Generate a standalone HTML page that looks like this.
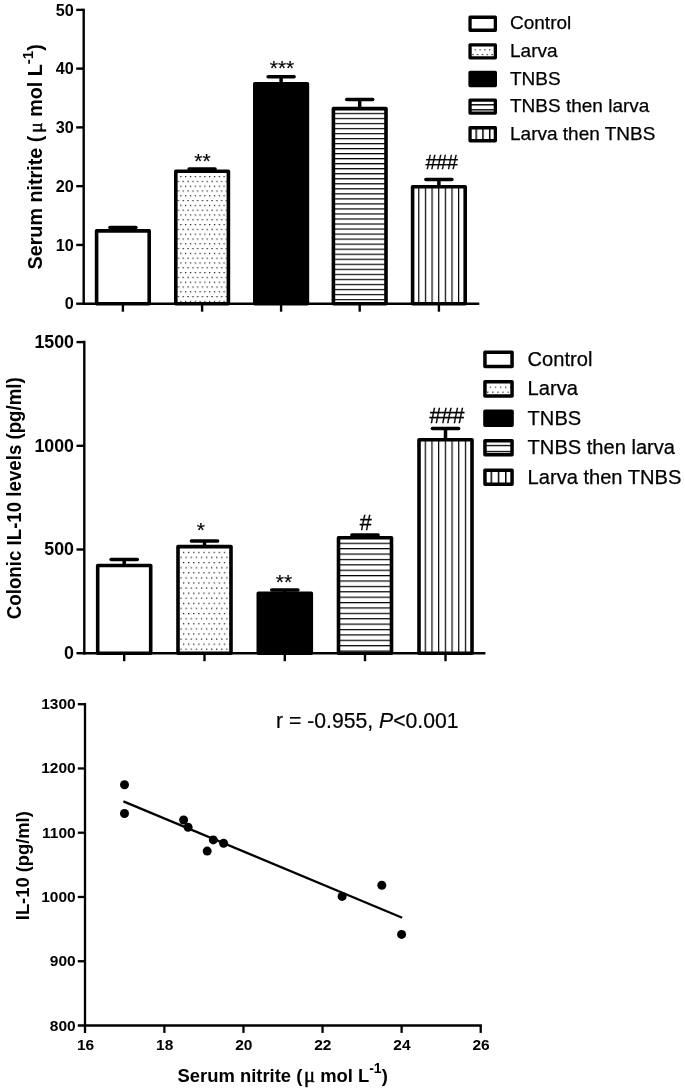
<!DOCTYPE html>
<html><head><meta charset="utf-8"><title>Figure</title>
<style>
html,body{margin:0;padding:0;background:#fff;}
body{width:685px;height:1091px;overflow:hidden;font-family:"Liberation Sans", sans-serif;}
svg{display:block;filter:blur(0.6px);font-family:"Liberation Sans", sans-serif;fill:#000;}
</style></head><body>
<svg width="685" height="1091" viewBox="0 0 685 1091">
<defs>
<pattern id="d1" width="4.8" height="9.6" patternUnits="userSpaceOnUse" x="180.30" y="176.00"><rect x="0" y="0" width="1.2" height="1.2" fill="#111"/><rect x="2.4" y="4.8" width="1.2" height="1.2" fill="#111"/></pattern>
<pattern id="h1" width="20" height="5.03" patternUnits="userSpaceOnUse" x="0" y="112.80"><rect x="0" y="0" width="20" height="1.2" fill="#000"/></pattern>
<pattern id="v1" width="6.64" height="20" patternUnits="userSpaceOnUse" x="418.20" y="0"><rect x="0" y="0" width="1.2" height="20" fill="#000"/></pattern>
<pattern id="d1L" width="4.8" height="9.6" patternUnits="userSpaceOnUse" x="474.70" y="49.25"><rect x="0" y="0" width="1.2" height="1.2" fill="#111"/><rect x="2.4" y="4.8" width="1.2" height="1.2" fill="#111"/></pattern>
<pattern id="h1L" width="20" height="5.03" patternUnits="userSpaceOnUse" x="0" y="104.15"><rect x="0" y="0" width="20" height="1.3" fill="#000"/></pattern>
<pattern id="v1L" width="6.75" height="20" patternUnits="userSpaceOnUse" x="475.45" y="0"><rect x="0" y="0" width="1.5" height="20" fill="#000"/></pattern>
<pattern id="d2" width="5.1" height="10.2" patternUnits="userSpaceOnUse" x="183.00" y="551.80"><rect x="0" y="0" width="1.2" height="1.2" fill="#111"/><rect x="2.55" y="5.1" width="1.2" height="1.2" fill="#111"/></pattern>
<pattern id="h2" width="20" height="5.39" patternUnits="userSpaceOnUse" x="0" y="542.70"><rect x="0" y="0" width="20" height="1.2" fill="#000"/></pattern>
<pattern id="v2" width="6.69" height="20" patternUnits="userSpaceOnUse" x="424.70" y="0"><rect x="0" y="0" width="1.2" height="20" fill="#000"/></pattern>
<pattern id="d2L" width="5.1" height="10.2" patternUnits="userSpaceOnUse" x="489.70" y="386.60"><rect x="0" y="0" width="1.2" height="1.2" fill="#111"/><rect x="2.55" y="5.1" width="1.2" height="1.2" fill="#111"/></pattern>
<pattern id="h2L" width="20" height="6.0" patternUnits="userSpaceOnUse" x="0" y="444.85"><rect x="0" y="0" width="20" height="1.3" fill="#000"/></pattern>
<pattern id="v2L" width="7.2" height="20" patternUnits="userSpaceOnUse" x="490.55" y="0"><rect x="0" y="0" width="1.5" height="20" fill="#000"/></pattern>
</defs>
<rect x="0" y="0" width="685" height="1091" fill="#fff"/>
<line x1="122.90" y1="230.83" x2="122.90" y2="227.59" stroke="#000" stroke-width="3.5"/>
<line x1="109.90" y1="227.59" x2="135.90" y2="227.59" stroke="#000" stroke-width="3.5" stroke-linecap="round"/>
<rect x="96.60" y="230.83" width="52.60" height="72.87" fill="#fff" stroke="#000" stroke-width="3.6" stroke-linejoin="round"/>
<line x1="202.10" y1="171.29" x2="202.10" y2="168.94" stroke="#000" stroke-width="3.5"/>
<line x1="189.10" y1="168.94" x2="215.10" y2="168.94" stroke="#000" stroke-width="3.5" stroke-linecap="round"/>
<rect x="175.80" y="171.29" width="52.60" height="132.41" fill="url(#d1)" stroke="#000" stroke-width="3.6" stroke-linejoin="round"/>
<line x1="281.10" y1="83.78" x2="281.10" y2="76.73" stroke="#000" stroke-width="3.5"/>
<line x1="268.10" y1="76.73" x2="294.10" y2="76.73" stroke="#000" stroke-width="3.5" stroke-linecap="round"/>
<rect x="254.80" y="83.78" width="52.60" height="219.92" fill="#000" stroke="#000" stroke-width="3.6" stroke-linejoin="round"/>
<line x1="359.70" y1="108.58" x2="359.70" y2="99.47" stroke="#000" stroke-width="3.5"/>
<line x1="346.70" y1="99.47" x2="372.70" y2="99.47" stroke="#000" stroke-width="3.5" stroke-linecap="round"/>
<rect x="333.40" y="108.58" width="52.60" height="195.12" fill="url(#h1)" stroke="#000" stroke-width="3.6" stroke-linejoin="round"/>
<line x1="438.90" y1="186.75" x2="438.90" y2="179.40" stroke="#000" stroke-width="3.5"/>
<line x1="425.90" y1="179.40" x2="451.90" y2="179.40" stroke="#000" stroke-width="3.5" stroke-linecap="round"/>
<rect x="412.60" y="186.75" width="52.60" height="116.95" fill="url(#v1)" stroke="#000" stroke-width="3.6" stroke-linejoin="round"/>
<line x1="83.70" y1="8.65" x2="83.70" y2="304.90" stroke="#000" stroke-width="2.4"/>
<line x1="82.50" y1="303.70" x2="479.30" y2="303.70" stroke="#000" stroke-width="2.4"/>
<line x1="76.20" y1="303.70" x2="83.70" y2="303.70" stroke="#000" stroke-width="2.4"/>
<text x="73.70" y="309.40" text-anchor="end" font-weight="bold" font-size="16.2">0</text>
<line x1="76.20" y1="244.93" x2="83.70" y2="244.93" stroke="#000" stroke-width="2.4"/>
<text x="73.70" y="250.63" text-anchor="end" font-weight="bold" font-size="16.2">10</text>
<line x1="76.20" y1="186.16" x2="83.70" y2="186.16" stroke="#000" stroke-width="2.4"/>
<text x="73.70" y="191.86" text-anchor="end" font-weight="bold" font-size="16.2">20</text>
<line x1="76.20" y1="127.39" x2="83.70" y2="127.39" stroke="#000" stroke-width="2.4"/>
<text x="73.70" y="133.09" text-anchor="end" font-weight="bold" font-size="16.2">30</text>
<line x1="76.20" y1="68.62" x2="83.70" y2="68.62" stroke="#000" stroke-width="2.4"/>
<text x="73.70" y="74.32" text-anchor="end" font-weight="bold" font-size="16.2">40</text>
<line x1="76.20" y1="9.85" x2="83.70" y2="9.85" stroke="#000" stroke-width="2.4"/>
<text x="73.70" y="15.55" text-anchor="end" font-weight="bold" font-size="16.2">50</text>
<line x1="122.90" y1="303.70" x2="122.90" y2="311.70" stroke="#000" stroke-width="2.4"/>
<line x1="202.10" y1="303.70" x2="202.10" y2="311.70" stroke="#000" stroke-width="2.4"/>
<line x1="281.10" y1="303.70" x2="281.10" y2="311.70" stroke="#000" stroke-width="2.4"/>
<line x1="359.70" y1="303.70" x2="359.70" y2="311.70" stroke="#000" stroke-width="2.4"/>
<line x1="438.90" y1="303.70" x2="438.90" y2="311.70" stroke="#000" stroke-width="2.4"/>
<text x="202.40" y="168.00" text-anchor="middle" font-size="21" stroke="#000" stroke-width="0.15">**</text>
<text x="282.00" y="75.40" text-anchor="middle" font-size="21" stroke="#000" stroke-width="0.15">***</text>
<text x="441.40" y="169.20" text-anchor="middle" font-size="20.1" letter-spacing="-0.5" stroke="#000" stroke-width="0.3">###</text>
<rect x="470.05" y="17.25" width="25.30" height="13.00" fill="#fff" stroke="#000" stroke-width="3.3" stroke-linejoin="round"/>
<text x="510.00" y="29.40" font-size="19" stroke="#000" stroke-width="0.25">Control</text>
<rect x="470.05" y="44.87" width="25.30" height="13.00" fill="url(#d1L)" stroke="#000" stroke-width="3.3" stroke-linejoin="round"/>
<text x="510.00" y="57.02" font-size="19" stroke="#000" stroke-width="0.25">Larva</text>
<rect x="470.05" y="72.49" width="25.30" height="13.00" fill="#000" stroke="#000" stroke-width="3.3" stroke-linejoin="round"/>
<text x="510.00" y="84.64" font-size="19" stroke="#000" stroke-width="0.25">TNBS</text>
<rect x="470.05" y="100.11" width="25.30" height="13.00" fill="url(#h1L)" stroke="#000" stroke-width="3.3" stroke-linejoin="round"/>
<text x="510.00" y="112.26" font-size="19" stroke="#000" stroke-width="0.25">TNBS then larva</text>
<rect x="470.05" y="127.73" width="25.30" height="13.00" fill="url(#v1L)" stroke="#000" stroke-width="3.3" stroke-linejoin="round"/>
<text x="510.00" y="139.88" font-size="19" stroke="#000" stroke-width="0.25">Larva then TNBS</text>
<text transform="translate(41.80,269.50) rotate(-90) scale(1,1)" text-anchor="start" font-weight="bold" font-size="19.75">Serum nitrite (<tspan font-family="'Liberation Serif', serif" font-weight="normal" font-size="19.4" dx="2.9" stroke="#000" stroke-width="0.45">μ</tspan><tspan dx="0.0"> mol L</tspan><tspan font-size="15.0" dy="-9.3">-1</tspan><tspan dy="9.3">)</tspan></text>
<line x1="124.20" y1="565.47" x2="124.20" y2="559.56" stroke="#000" stroke-width="3.5"/>
<line x1="111.10" y1="559.56" x2="137.30" y2="559.56" stroke="#000" stroke-width="3.5" stroke-linecap="round"/>
<rect x="97.70" y="565.47" width="53.00" height="87.73" fill="#fff" stroke="#000" stroke-width="3.6" stroke-linejoin="round"/>
<line x1="204.50" y1="546.60" x2="204.50" y2="541.00" stroke="#000" stroke-width="3.5"/>
<line x1="191.40" y1="541.00" x2="217.60" y2="541.00" stroke="#000" stroke-width="3.5" stroke-linecap="round"/>
<rect x="178.00" y="546.60" width="53.00" height="106.60" fill="url(#d2)" stroke="#000" stroke-width="3.6" stroke-linejoin="round"/>
<line x1="284.80" y1="593.26" x2="284.80" y2="589.94" stroke="#000" stroke-width="3.5"/>
<line x1="271.70" y1="589.94" x2="297.90" y2="589.94" stroke="#000" stroke-width="3.5" stroke-linecap="round"/>
<rect x="258.30" y="593.26" width="53.00" height="59.94" fill="#000" stroke="#000" stroke-width="3.6" stroke-linejoin="round"/>
<line x1="365.00" y1="537.68" x2="365.00" y2="534.98" stroke="#000" stroke-width="3.5"/>
<line x1="351.90" y1="534.98" x2="378.10" y2="534.98" stroke="#000" stroke-width="3.5" stroke-linecap="round"/>
<rect x="338.50" y="537.68" width="53.00" height="115.52" fill="url(#h2)" stroke="#000" stroke-width="3.6" stroke-linejoin="round"/>
<line x1="445.50" y1="439.79" x2="445.50" y2="428.38" stroke="#000" stroke-width="3.5"/>
<line x1="432.40" y1="428.38" x2="458.60" y2="428.38" stroke="#000" stroke-width="3.5" stroke-linecap="round"/>
<rect x="419.00" y="439.79" width="53.00" height="213.41" fill="url(#v2)" stroke="#000" stroke-width="3.6" stroke-linejoin="round"/>
<line x1="84.30" y1="340.70" x2="84.30" y2="654.40" stroke="#000" stroke-width="2.4"/>
<line x1="83.10" y1="653.20" x2="485.40" y2="653.20" stroke="#000" stroke-width="2.4"/>
<line x1="76.50" y1="653.20" x2="84.30" y2="653.20" stroke="#000" stroke-width="2.4"/>
<text x="74.00" y="659.10" text-anchor="end" font-weight="bold" font-size="17.8">0</text>
<line x1="76.50" y1="549.50" x2="84.30" y2="549.50" stroke="#000" stroke-width="2.4"/>
<text x="74.00" y="555.40" text-anchor="end" font-weight="bold" font-size="17.8">500</text>
<line x1="76.50" y1="445.80" x2="84.30" y2="445.80" stroke="#000" stroke-width="2.4"/>
<text x="74.00" y="451.70" text-anchor="end" font-weight="bold" font-size="17.8">1000</text>
<line x1="76.50" y1="342.10" x2="84.30" y2="342.10" stroke="#000" stroke-width="2.4"/>
<text x="74.00" y="348.00" text-anchor="end" font-weight="bold" font-size="17.8">1500</text>
<line x1="124.20" y1="653.20" x2="124.20" y2="661.20" stroke="#000" stroke-width="2.4"/>
<line x1="204.50" y1="653.20" x2="204.50" y2="661.20" stroke="#000" stroke-width="2.4"/>
<line x1="284.80" y1="653.20" x2="284.80" y2="661.20" stroke="#000" stroke-width="2.4"/>
<line x1="365.00" y1="653.20" x2="365.00" y2="661.20" stroke="#000" stroke-width="2.4"/>
<line x1="445.50" y1="653.20" x2="445.50" y2="661.20" stroke="#000" stroke-width="2.4"/>
<text x="200.90" y="537.20" text-anchor="middle" font-size="21" stroke="#000" stroke-width="0.15">*</text>
<text x="284.00" y="589.30" text-anchor="middle" font-size="21" stroke="#000" stroke-width="0.15">**</text>
<text x="365.50" y="529.50" text-anchor="middle" font-size="21.5" letter-spacing="-0.5" stroke="#000" stroke-width="0.3">#</text>
<text x="446.80" y="422.60" text-anchor="middle" font-size="21.5" letter-spacing="-0.5" stroke="#000" stroke-width="0.3">###</text>
<rect x="484.95" y="352.35" width="27.10" height="14.10" fill="#fff" stroke="#000" stroke-width="3.5" stroke-linejoin="round"/>
<text x="527.60" y="365.80" font-size="20.1" stroke="#000" stroke-width="0.25">Control</text>
<rect x="484.95" y="381.80" width="27.10" height="14.10" fill="url(#d2L)" stroke="#000" stroke-width="3.5" stroke-linejoin="round"/>
<text x="527.60" y="395.25" font-size="20.1" stroke="#000" stroke-width="0.25">Larva</text>
<rect x="484.95" y="411.25" width="27.10" height="14.10" fill="#000" stroke="#000" stroke-width="3.5" stroke-linejoin="round"/>
<text x="527.60" y="424.70" font-size="20.1" stroke="#000" stroke-width="0.25">TNBS</text>
<rect x="484.95" y="440.70" width="27.10" height="14.10" fill="url(#h2L)" stroke="#000" stroke-width="3.5" stroke-linejoin="round"/>
<text x="527.60" y="454.15" font-size="20.1" stroke="#000" stroke-width="0.25">TNBS then larva</text>
<rect x="484.95" y="470.15" width="27.10" height="14.10" fill="url(#v2L)" stroke="#000" stroke-width="3.5" stroke-linejoin="round"/>
<text x="527.60" y="483.60" font-size="20.1" stroke="#000" stroke-width="0.25">Larva then TNBS</text>
<text transform="translate(20.90,498.20) rotate(-90) scale(1,1.045)" text-anchor="middle" font-weight="bold" font-size="18.7">Colonic IL-10 levels (pg/ml)</text>
<line x1="85.0" y1="703.05" x2="85.0" y2="1032.90" stroke="#000" stroke-width="2.3"/>
<line x1="77.80" y1="1025.5" x2="481.85" y2="1025.5" stroke="#000" stroke-width="2.3"/>
<text x="75.7" y="1030.50" text-anchor="end" font-weight="bold" font-size="15.5">800</text>
<line x1="77.80" y1="961.24" x2="85.0" y2="961.24" stroke="#000" stroke-width="2.3"/>
<text x="75.7" y="966.24" text-anchor="end" font-weight="bold" font-size="15.5">900</text>
<line x1="77.80" y1="896.98" x2="85.0" y2="896.98" stroke="#000" stroke-width="2.3"/>
<text x="75.7" y="901.98" text-anchor="end" font-weight="bold" font-size="15.5">1000</text>
<line x1="77.80" y1="832.72" x2="85.0" y2="832.72" stroke="#000" stroke-width="2.3"/>
<text x="75.7" y="837.72" text-anchor="end" font-weight="bold" font-size="15.5">1100</text>
<line x1="77.80" y1="768.46" x2="85.0" y2="768.46" stroke="#000" stroke-width="2.3"/>
<text x="75.7" y="773.46" text-anchor="end" font-weight="bold" font-size="15.5">1200</text>
<line x1="77.80" y1="704.20" x2="85.0" y2="704.20" stroke="#000" stroke-width="2.3"/>
<text x="75.7" y="709.20" text-anchor="end" font-weight="bold" font-size="15.5">1300</text>
<text x="85.60" y="1050.2" text-anchor="middle" font-weight="bold" font-size="15.5">16</text>
<line x1="164.38" y1="1025.5" x2="164.38" y2="1032.90" stroke="#000" stroke-width="2.3"/>
<text x="164.68" y="1050.2" text-anchor="middle" font-weight="bold" font-size="15.5">18</text>
<line x1="243.46" y1="1025.5" x2="243.46" y2="1032.90" stroke="#000" stroke-width="2.3"/>
<text x="243.76" y="1050.2" text-anchor="middle" font-weight="bold" font-size="15.5">20</text>
<line x1="322.54" y1="1025.5" x2="322.54" y2="1032.90" stroke="#000" stroke-width="2.3"/>
<text x="322.84" y="1050.2" text-anchor="middle" font-weight="bold" font-size="15.5">22</text>
<line x1="401.62" y1="1025.5" x2="401.62" y2="1032.90" stroke="#000" stroke-width="2.3"/>
<text x="401.92" y="1050.2" text-anchor="middle" font-weight="bold" font-size="15.5">24</text>
<line x1="480.70" y1="1025.5" x2="480.70" y2="1032.90" stroke="#000" stroke-width="2.3"/>
<text x="481.00" y="1050.2" text-anchor="middle" font-weight="bold" font-size="15.5">26</text>
<line x1="123.4" y1="801.4" x2="402.2" y2="917.7" stroke="#000" stroke-width="2.3"/>
<circle cx="124.5" cy="784.8" r="4.5" fill="#000"/>
<circle cx="124.5" cy="813.5" r="4.5" fill="#000"/>
<circle cx="183.6" cy="820" r="4.5" fill="#000"/>
<circle cx="188.1" cy="827.3" r="4.5" fill="#000"/>
<circle cx="213.3" cy="839.9" r="4.5" fill="#000"/>
<circle cx="223.6" cy="843.2" r="4.5" fill="#000"/>
<circle cx="207.2" cy="851.1" r="4.5" fill="#000"/>
<circle cx="342.1" cy="896.4" r="4.5" fill="#000"/>
<circle cx="381.8" cy="885.2" r="4.5" fill="#000"/>
<circle cx="401.6" cy="934.4" r="4.5" fill="#000"/>
<text x="276" y="727.7" font-size="21.2" stroke="#000" stroke-width="0.2">r = -0.955, <tspan font-style="italic">P</tspan>&lt;0.001</text>
<text transform="translate(28.5,865.7) rotate(-90) scale(1,1.035)" text-anchor="middle" font-weight="bold" font-size="18.35">IL-10 (pg/ml)</text>
<text x="177.6" y="1081.6" text-anchor="start" font-weight="bold" font-size="18.4">Serum nitrite (<tspan font-family="'Liberation Serif', serif" font-weight="normal" font-size="20.6" dx="1.7" stroke="#000" stroke-width="0.45">μ</tspan><tspan dx="0.0"> mol L</tspan><tspan font-size="14.0" dy="-8.6">-1</tspan><tspan dy="8.6">)</tspan></text>
</svg>
</body></html>
